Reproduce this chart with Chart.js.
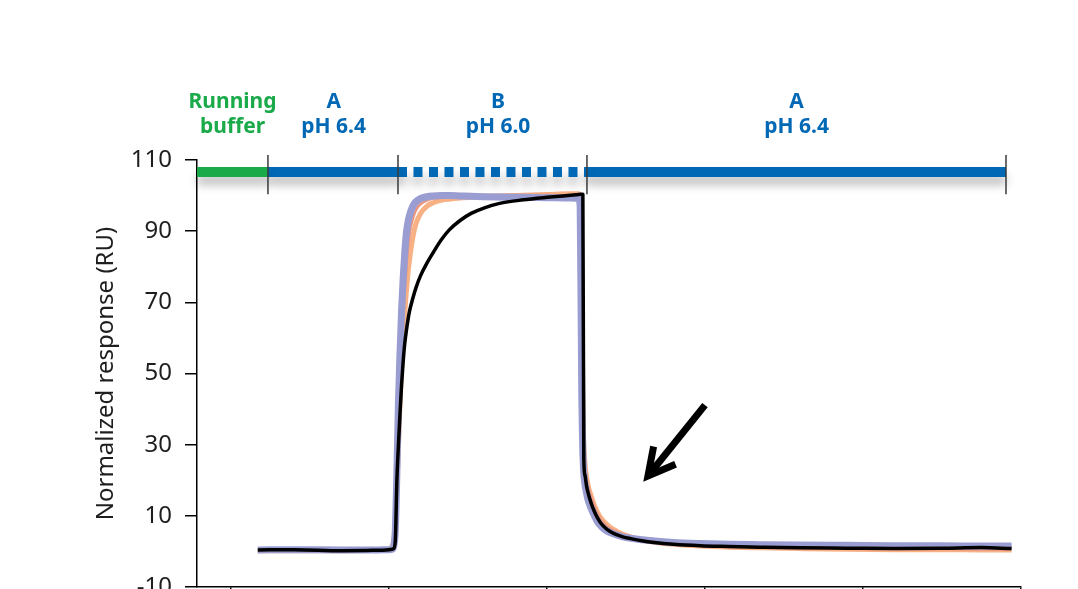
<!DOCTYPE html>
<html>
<head>
<meta charset="utf-8">
<script src="https://cdn.jsdelivr.net/npm/chart.js@4"></script>
<style>
  html, body { margin: 0; padding: 0; background: #fff; overflow: hidden; }
  #wrap { position: relative; width: 1078px; height: 640px; }
</style>
</head>
<body>
<div id="wrap"><canvas id="sensorgram"></canvas></div>
<script>
// time points (s), shared by all traces
const time = [17, 40, 70, 90, 100, 102, 103, 104, 105, 106, 107, 108, 109, 110, 111, 112, 113, 115, 117, 120,
  124, 128, 133, 138, 145, 152, 160, 170, 185, 200, 215, 220, 221, 222, 222.7, 223.3, 224, 225, 226, 228,
  230, 232, 234, 237, 240, 244, 248, 253, 260, 268, 280, 297, 315, 335, 360, 390, 420, 450, 475, 494];

// normalized response (RU)
const blackTrace = [0.4, 0.5, 0.2, 0.3, 0.5, 0.6, 0.8, 3, 20, 30, 39, 47, 53.5, 58.5, 62, 65, 67.5, 71, 74, 77.5,
  81, 84, 87.5, 90.3, 93, 95, 96.5, 97.8, 98.8, 99.5, 100.1, 100.3, 100.4, 100.4, 100.4, 26, 21.5, 18.5, 16.5, 13.5,
  11.2, 9.4, 8, 6.6, 5.6, 4.7, 4.1, 3.6, 3.0, 2.5, 2.0, 1.6, 1.4, 1.2, 1.0, 0.9, 0.8, 0.9, 1.1, 0.8];
const purpleTrace = [0.4, 0.5, 0.4, 0.4, 0.5, 0.6, 1.5, 6, 22, 42, 56, 68, 77, 84, 89.5, 92.5, 94.5, 97, 98.3, 99.2,
  99.7, 99.9, 100, 100, 99.9, 99.8, 99.7, 99.6, 99.5, 99.4, 99.3, 99.2, 97, 45, 28, 22, 19, 16.5, 14.5, 12,
  10, 8.3, 7.2, 6, 5.3, 4.6, 4.1, 3.7, 3.3, 2.9, 2.5, 2.2, 2.0, 1.9, 1.8, 1.7, 1.6, 1.6, 1.5, 1.5];
const blueTrace = [0.3, 0.4, 0.4, 0.4, 0.5, 0.6, 1.2, 5, 19, 38, 53, 65, 75, 82, 87.5, 91, 93.5, 96.3, 97.8, 98.8,
  99.4, 99.7, 99.8, 99.8, 99.7, 99.6, 99.5, 99.4, 99.3, 99.3, 99.2, 99.2, 98, 55, 32, 24, 20, 17.5, 15.5, 12.8,
  10.6, 8.8, 7.6, 6.3, 5.5, 4.8, 4.2, 3.8, 3.3, 2.9, 2.5, 2.1, 1.9, 1.8, 1.7, 1.6, 1.5, 1.5, 1.4, 1.4];
const salmonTrace = [0.3, 0.3, 0.3, 0.3, 0.4, 0.7, 2, 7, 20, 36, 50, 62, 71, 78, 84, 88, 91, 94.5, 96.5, 98,
  99, 99.5, 99.7, 99.8, 99.8, 99.8, 99.8, 99.8, 99.8, 99.8, 99.7, 99.6, 98.5, 60, 35, 26, 22, 19, 17, 14,
  11.8, 9.8, 8.4, 7, 6, 5.1, 4.5, 3.9, 3.3, 2.8, 2.3, 1.9, 1.6, 1.4, 1.2, 1.1, 1.0, 1.0, 0.9, 0.9];
const orangeTrace = [0.2, 0.2, 0.2, 0.3, 0.6, 1.5, 3, 8, 18, 30, 42, 52, 60, 67, 73, 78, 82, 88, 92, 95,
  97, 98, 98.7, 99, 99.3, 99.5, 99.7, 99.9, 100.1, 100.3, 100.5, 100.5, 99, 70, 40, 30, 25, 21, 18.5, 15.5,
  13, 11, 9.5, 8, 6.8, 5.7, 4.8, 4.0, 3.2, 2.6, 2.0, 1.5, 1.2, 1.0, 0.8, 0.6, 0.5, 0.5, 0.4, 0.4];

// injection phases shown above the curves
const phaseBounds = [-21.5, 23.4, 105.7, 225.3, 490.5];
const phaseLabels = [['Running', 'buffer'], ['A', 'pH 6.4'], ['B', 'pH 6.0'], ['A', 'pH 6.4']];
const phaseLabelX = [1, 65, 169, 358];
const phaseColors = ['#1aaa4a', '#0068b4', '#0068b4', '#0068b4'];
const phaseDashed = [false, false, true, false];
const phaseLevel = 106.6;
const separatorTop = 111.4;
const separatorBottom = 100.4;

const xTicks = [0, 100, 200, 300, 400, 500];
const yTicks = [-10, 10, 30, 50, 70, 90, 110];

// arrow pointing at the dissociation tail
const arrowTail = [300, 41.1];
const arrowTip = [263.9, 21.2];

function toPoints(values) {
  return time.map((t, i) => ({x: t, y: values[i]}));
}

let datasets = [];

// thin separators between phases
datasets.push({
  data: phaseBounds.slice(1).flatMap(b => [{x: b, y: separatorTop}, {x: b, y: separatorBottom}, {x: b, y: null}]),
  borderColor: '#3a3a3a',
  borderWidth: 1.5,
  pointRadius: 0,
  spanGaps: false,
  clip: false
});

// phase bars
phaseLabels.forEach((lbl, i) => {
  datasets.push({
    data: [{x: phaseBounds[i], y: phaseLevel}, {x: phaseBounds[i + 1], y: phaseLevel}],
    borderColor: phaseColors[i],
    borderWidth: 10,
    borderCapStyle: 'butt',
    borderDash: phaseDashed[i] ? [9, 6.5] : [],
    pointRadius: 0,
    clip: false,
    shadow: true
  });
});

// sensorgram traces, first one is drawn on top
const traces = [
  {values: blackTrace, color: '#000000', width: 3.5},
  {values: purpleTrace, color: '#9a9dd1', width: 7},
  {values: blueTrace, color: '#a3b6e0', width: 5},
  {values: salmonTrace, color: '#e99783', width: 5},
  {values: orangeTrace, color: '#f8b184', width: 5}
];
traces.forEach(tr => {
  datasets.push({
    data: toPoints(tr.values),
    borderColor: tr.color,
    borderWidth: tr.width,
    pointRadius: 0,
    cubicInterpolationMode: 'monotone',
    borderJoinStyle: 'round'
  });
});

const extrasPlugin = {
  id: 'extras',
  beforeDatasetDraw(chart, args) {
    if (chart.data.datasets[args.index].shadow) {
      const ctx = chart.ctx;
      ctx.save();
      ctx.shadowColor = 'rgba(0,0,0,0.25)';
      ctx.shadowBlur = 10;
      ctx.shadowOffsetY = 8;
    }
  },
  afterDatasetDraw(chart, args) {
    if (chart.data.datasets[args.index].shadow) {
      chart.ctx.restore();
    }
  },
  afterDraw(chart) {
    const ctx = chart.ctx;
    const xs = chart.scales.x, ys = chart.scales.y;
    ctx.save();
    // phase labels
    ctx.font = 'bold 21px "Noto Sans"';
    ctx.textAlign = 'center';
    ctx.textBaseline = 'middle';
    phaseLabels.forEach((lines, i) => {
      ctx.fillStyle = phaseColors[i];
      const px = xs.getPixelForValue(phaseLabelX[i]);
      ctx.fillText(lines[0], px, 102);
      ctx.fillText(lines[1], px, 127);
    });
    // arrow
    const x0 = xs.getPixelForValue(arrowTail[0]), y0 = ys.getPixelForValue(arrowTail[1]);
    const x1 = xs.getPixelForValue(arrowTip[0]), y1 = ys.getPixelForValue(arrowTip[1]);
    const ang = Math.atan2(y0 - y1, x0 - x1);
    const head = 30, spread = 28 * Math.PI / 180;
    ctx.strokeStyle = '#000';
    ctx.lineWidth = 7;
    ctx.lineCap = 'butt';
    ctx.beginPath();
    ctx.moveTo(x0, y0);
    ctx.lineTo(x1, y1);
    ctx.stroke();
    ctx.lineJoin = 'miter';
    ctx.beginPath();
    ctx.moveTo(x1 + head * Math.cos(ang - spread), y1 + head * Math.sin(ang - spread));
    ctx.lineTo(x1, y1);
    ctx.lineTo(x1 + head * Math.cos(ang + spread), y1 + head * Math.sin(ang + spread));
    ctx.stroke();
    ctx.restore();
  }
};

let ctx = document.getElementById('sensorgram');
let chart = new Chart(ctx, {
  type: 'line',
  data: {datasets: datasets},
  options: {
    responsive: true,
    maintainAspectRatio: false,
    animation: false,
    layout: {padding: {top: 160, left: 92, right: 57, bottom: 13}},
    plugins: {legend: {display: false}, tooltip: {enabled: false}},
    scales: {
      x: {
        type: 'linear',
        min: -21.5,
        max: 500,
        afterBuildTicks: s => { s.ticks = xTicks.map(v => ({value: v})); },
        ticks: {display: false},
        grid: {drawOnChartArea: false, tickLength: 10, color: '#000', lineWidth: 1.5},
        border: {color: '#000', width: 1.5},
        afterFit: s => { s.height = 40; }
      },
      y: {
        min: -10,
        max: 110,
        afterBuildTicks: s => { s.ticks = yTicks.map(v => ({value: v})); },
        ticks: {color: '#1e1e1e', padding: 13, font: {family: '"Noto Sans"', size: 24}},
        grid: {drawOnChartArea: false, tickLength: 12, color: '#000', lineWidth: 1.5},
        border: {color: '#000', width: 1.5},
        title: {
          display: true,
          text: 'Normalized response (RU)',
          color: '#1e1e1e',
          font: {family: '"Noto Sans"', size: 24},
          padding: {top: 0, bottom: 16}
        },
        afterFit: s => { s.width = 105; }
      }
    }
  },
  plugins: [extrasPlugin]
});
</script>
</body>
</html>
